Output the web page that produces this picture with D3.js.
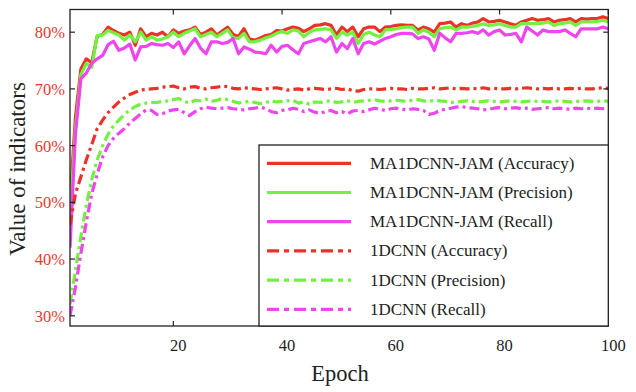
<!DOCTYPE html>
<html>
<head>
<meta charset="utf-8">
<script src="https://cdn.jsdelivr.net/npm/d3@7"></script>
<style>
  body { margin: 0; background: #fff; }
  svg text { font-family: "Liberation Serif", "Times New Roman", serif; }
</style>
</head>
<body>
<div id="chart"></div>
<script>
const epochs = d3.range(1, 101);

const oursAcc = [50,65,73.5,75.3,74.6,79.3,79.6,80.9,80.3,79.8,79.5,80.0,77.7,80.6,79.2,79.8,79.5,80.0,79.2,80.4,
  79.8,80.2,80.4,80.9,79.6,80.0,80.6,79.5,80.2,80.9,79.6,79.3,80.6,78.8,78.6,79.0,79.4,79.6,80.3,80.2,
  80.6,80.9,80.7,80.1,80.6,81.2,81.3,81.5,81.2,79.5,80.9,80.1,80.9,79.2,80.6,80.9,80.9,80.1,80.9,81.0,
  81.2,81.3,81.2,81.2,80.4,80.9,80.6,80.0,81.5,81.6,81.8,80.9,81.5,81.2,81.6,81.8,82.4,81.8,81.9,82.1,
  81.8,81.5,81.2,81.8,82.1,82.4,82.1,82.2,82.4,81.8,82.1,82.2,82.4,81.8,82.4,82.3,82.4,82.4,82.7,82.4];

const oursPre = [47,63,72.5,74.5,73.8,79.4,79.5,80.3,79.9,79.5,78.6,79.5,78.3,80.0,78.6,79.2,78.6,78.8,79.2,80.0,
  79.2,79.8,80.2,80.6,79.2,79.6,80.0,79.2,79.8,80.4,79.0,78.9,79.8,78.3,78.3,78.6,79.0,79.3,79.8,80.1,
  79.8,80.4,80.2,79.2,80.0,80.4,80.5,80.6,80.4,78.9,80.0,79.5,80.0,78.0,79.6,80.0,79.5,79.2,80.4,80.5,
  80.6,80.8,80.9,80.9,79.8,80.4,80.0,79.2,80.6,80.8,80.9,80.4,80.9,80.9,81.0,81.2,81.5,81.2,81.3,81.5,
  81.2,80.9,80.9,81.5,81.5,81.5,81.5,81.6,81.8,81.2,81.5,81.6,81.8,81.2,81.8,81.8,81.8,81.9,82.1,81.8];

const oursRec = [42,62,71.8,72.8,74.5,75.3,75.9,77.8,78.4,76.8,77.2,77.9,75.1,77.4,77.5,78.0,77.8,77.7,78.0,77.3,
  78.3,76.2,77.6,78.9,77.2,76.2,78.3,78.3,78.0,78.2,78.9,76.2,77.4,77.0,76.5,76.4,76.2,77.7,76.5,77.5,
  77.7,76.9,76.2,78.0,78.3,78.6,78.9,78.3,79.2,76.5,78.0,77.1,78.9,76.2,78.0,78.3,77.9,78.4,78.9,79.2,
  79.6,79.8,79.8,79.7,78.9,79.2,78.8,76.8,79.8,79.0,78.3,79.8,79.8,79.9,80.1,79.8,80.4,79.5,80.1,80.4,
  79.5,79.6,79.8,78.3,80.9,80.2,79.5,80.4,80.1,80.1,80.1,80.4,79.8,79.2,80.6,80.6,80.6,80.6,80.9,80.6];

const cnnAcc = [46,51.5,54.5,57.5,60.2,63.0,64.5,65.8,66.8,67.7,68.4,69.0,69.4,69.8,69.9,70.0,70.1,70.3,70.4,70.5,
  70.2,70.0,70.3,70.4,70.1,70.0,70.2,70.3,70.5,70.4,70.1,70.0,70.2,70.1,70.0,69.9,70.0,70.1,70.2,70.0,
  69.8,69.9,70.0,69.8,70.0,70.1,70.0,69.9,70.0,70.1,69.9,70.0,69.7,69.6,69.9,70.0,70.0,69.9,70.0,70.1,
  70.0,70.0,69.9,70.1,70.0,70.0,70.1,70.2,70.0,70.1,70.2,70.0,70.1,70.0,70.1,70.0,70.2,70.0,70.1,70.0,
  70.0,70.1,70.0,70.1,70.2,70.1,70.0,70.1,70.0,70.1,70.0,70.0,70.1,70.0,70.1,70.0,70.0,70.1,70.2,70.1];

const cnnPre = [32,38,44,49.5,54,57.5,60,62,63.5,64.5,65.5,66.3,66.9,67.3,67.5,67.6,67.6,67.8,67.9,68.1,
  68.3,67.8,67.5,68.0,67.9,68.2,67.8,68.0,68.3,68.1,67.8,67.5,67.7,67.8,67.6,67.4,67.6,67.9,67.7,67.8,
  67.9,68.0,67.5,67.7,67.3,67.7,67.6,67.8,67.9,67.6,67.7,67.9,67.6,67.8,67.9,68.0,68.1,67.9,67.8,67.9,
  68.0,67.9,67.8,68.0,68.1,67.9,67.8,68.0,67.9,67.8,67.6,67.7,67.8,67.9,67.8,67.7,67.8,67.9,67.8,67.7,
  67.8,67.9,67.8,67.7,67.8,67.9,67.8,67.8,67.7,67.8,67.9,67.8,67.7,67.8,67.8,67.9,67.8,67.8,67.9,67.8];

const cnnRec = [30,35,41,46.5,51.5,55,58,60,61.3,62.2,63.0,64.0,64.8,65.6,66.3,66.2,65.5,65.6,66.1,66.3,
  66.4,65.8,65.3,66.0,66.5,66.8,66.6,66.5,66.6,66.7,66.5,66.4,66.3,66.5,66.6,66.8,66.5,66.0,65.8,66.2,
  66.3,66.6,66.4,66.0,66.3,65.9,65.7,66.0,66.2,65.8,66.0,65.6,66.1,66.2,66.0,66.3,66.6,66.4,66.2,66.5,
  66.6,66.4,66.3,66.5,66.4,66.2,65.5,65.7,66.2,66.4,66.6,66.8,66.9,66.7,66.6,66.5,66.3,66.4,66.6,66.7,
  66.5,66.6,66.7,66.5,66.6,66.4,66.5,66.6,66.7,66.5,66.6,66.5,66.4,66.6,66.5,66.6,66.5,66.6,66.5,66.6];

const seriesNames = ["MA1DCNN-JAM (Accuracy)", "MA1DCNN-JAM (Precision)", "MA1DCNN-JAM (Recall)",
  "1DCNN (Accuracy)", "1DCNN (Precision)", "1DCNN (Recall)"];
const seriesValues = [oursAcc, oursPre, oursRec, cnnAcc, cnnPre, cnnRec];
const xTicks = [20, 40, 60, 80, 100];
const yTicks = [30, 40, 50, 60, 70, 80];

(function () {
  const RED = "#ea3326", GREEN = "#72f23e", MAGENTA = "#ee45ee";
  const colors = [RED, GREEN, MAGENTA, RED, GREEN, MAGENTA];
  const dashes = [null, null, null, "10,4,3,4", "10,4,3,4", "10,4,3,4"];

  const W = 636, H = 392;
  const pl = 70, pr = 608.3, pt = 9.5, pb = 326;

  const svg = d3.select("#chart").append("svg")
    .attr("width", W).attr("height", H);

  const x = d3.scaleLinear().domain([1, 100]).range([pl, pr]);
  const y = d3.scaleLinear().domain([28.2, 84]).range([pb, pt]);

  svg.append("clipPath").attr("id", "clip")
    .append("rect").attr("x", pl).attr("y", pt)
    .attr("width", pr - pl).attr("height", pb - pt);

  // lines
  const line = d3.line().x((d, i) => x(epochs[i])).y(d => y(d));
  const g = svg.append("g").attr("clip-path", "url(#clip)");
  seriesValues.forEach((vals, i) => {
    g.append("path")
      .attr("d", line(vals))
      .attr("fill", "none")
      .attr("stroke", colors[i])
      .attr("stroke-width", 3.2)
      .attr("stroke-linejoin", "round")
      .attr("stroke-dasharray", dashes[i]);
  });

  // ticks (inside, on all four sides)
  const tickLen = 5;
  const axisG = svg.append("g").attr("stroke", "#222").attr("stroke-width", 1.2);
  xTicks.forEach(t => {
    axisG.append("line").attr("x1", x(t)).attr("x2", x(t)).attr("y1", pb).attr("y2", pb - tickLen);
    axisG.append("line").attr("x1", x(t)).attr("x2", x(t)).attr("y1", pt).attr("y2", pt + tickLen);
  });
  yTicks.forEach(t => {
    axisG.append("line").attr("x1", pl).attr("x2", pl + tickLen).attr("y1", y(t)).attr("y2", y(t));
    axisG.append("line").attr("x1", pr).attr("x2", pr - tickLen).attr("y1", y(t)).attr("y2", y(t));
  });

  svg.append("rect")
    .attr("x", pl).attr("y", pt)
    .attr("width", pr - pl).attr("height", pb - pt)
    .attr("fill", "none").attr("stroke", "#222").attr("stroke-width", 1.3);

  // tick labels
  svg.selectAll(".xl").data(xTicks).enter().append("text")
    .attr("x", d => x(d) + 5).attr("y", 351)
    .attr("text-anchor", "middle")
    .attr("font-size", 16.5).attr("fill", "#222")
    .text(d => d);

  svg.selectAll(".yl").data(yTicks).enter().append("text")
    .attr("x", 65).attr("y", d => y(d) + 6)
    .attr("text-anchor", "end")
    .attr("font-size", 16.5).attr("fill", "#e8392e")
    .text(d => d + "%");

  // axis titles
  svg.append("text")
    .attr("x", 340).attr("y", 381)
    .attr("text-anchor", "middle")
    .attr("font-size", 22.5).attr("fill", "#222")
    .text("Epoch");

  svg.append("text")
    .attr("transform", "rotate(-90)")
    .attr("x", -169).attr("y", 25)
    .attr("text-anchor", "middle")
    .attr("font-size", 23).attr("fill", "#222")
    .text("Value of indicators");

  // legend
  const lg = svg.append("g");
  lg.append("rect")
    .attr("x", 259).attr("y", 145)
    .attr("width", pr - 259).attr("height", pb - 145)
    .attr("fill", "#fff").attr("stroke", "#222").attr("stroke-width", 1.3);

  seriesNames.forEach((name, i) => {
    const ry = 163.3 + i * 29.2;
    lg.append("line")
      .attr("x1", 267).attr("x2", 351)
      .attr("y1", ry).attr("y2", ry)
      .attr("stroke", colors[i]).attr("stroke-width", 3.2)
      .attr("stroke-dasharray", dashes[i] ? "12,5,5,5" : null);
    lg.append("text")
      .attr("x", 370).attr("y", ry + 5.5)
      .attr("font-size", 17).attr("fill", "#222")
      .text(name);
  });
})();
</script>
</body>
</html>
